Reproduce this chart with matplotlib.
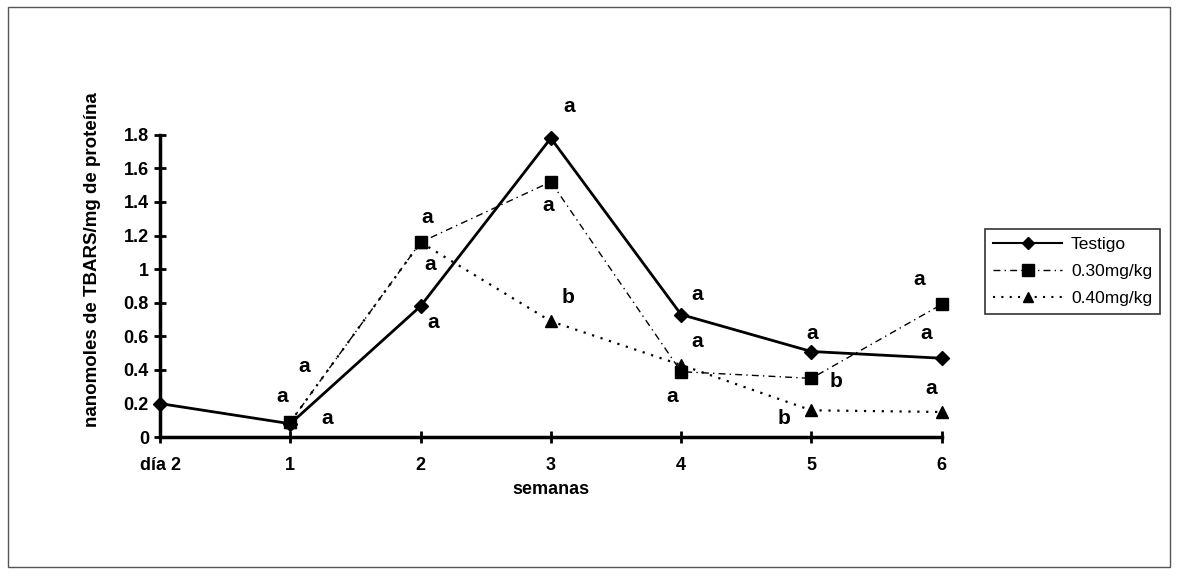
import numpy as np
import matplotlib
matplotlib.use("Agg")
import matplotlib.pyplot as plt
from matplotlib.lines import Line2D
from matplotlib.patches import Rectangle

plt.rcParams["font.family"] = ["Liberation Sans", "DejaVu Sans"]
plt.rcParams["font.weight"] = "bold"

# ---------- data ----------
categories = ["día 2", "1", "2", "3", "4", "5", "6"]
testigo = [0.20, 0.08, 0.78, 1.78, 0.73, 0.51, 0.47]
dosis_030 = [None, 0.09, 1.16, 1.52, 0.39, 0.35, 0.79]
dosis_040 = [None, 0.09, 1.16, 0.69, 0.43, 0.16, 0.15]

# significance letters (x, y, letter)
letters = [
    (0.94, 0.24, "a"), (1.11, 0.42, "a"), (1.28, 0.11, "a"),
    (2.05, 1.31, "a"), (2.07, 1.03, "a"), (2.10, 0.68, "a"),
    (3.14, 1.97, "a"), (2.98, 1.38, "a"), (3.13, 0.83, "b"),
    (4.12, 0.85, "a"), (4.12, 0.57, "a"), (3.93, 0.24, "a"),
    (5.01, 0.62, "a"), (5.19, 0.33, "b"), (4.79, 0.11, "b"),
    (5.83, 0.94, "a"), (5.88, 0.62, "a"), (5.92, 0.29, "a"),
]

def to_arr(vals):
    return np.array([np.nan if v is None else v for v in vals], dtype=float)

x = np.arange(len(categories))

fig = plt.figure(figsize=(11.77, 5.76), dpi=100)
ax = fig.add_axes([0.136, 0.241, 0.664, 0.525])

ax.plot(x, to_arr(dosis_040), color="black", linestyle=(0, (1, 3)), linewidth=1.6,
        marker="^", markersize=9, label="0.40mg/kg", zorder=3, clip_on=False)
ax.plot(x, to_arr(dosis_030), color="black", linestyle=(0, (5, 3, 1, 3)), linewidth=1.0,
        marker="s", markersize=9, label="0.30mg/kg", zorder=4, clip_on=False)
ax.plot(x, to_arr(testigo), color="black", linestyle="-", linewidth=2.0,
        marker="D", markersize=7.5, label="Testigo", zorder=5, clip_on=False)

for lx, ly, t in letters:
    ax.text(lx, ly, t, fontsize=15, fontweight="bold", ha="center", va="center")

ax.set_xlim(0, 6)
ax.set_ylim(0, 1.8)
ax.set_yticks(np.arange(0, 1.81, 0.2))
ax.set_yticklabels(["0", "0.2", "0.4", "0.6", "0.8", "1", "1.2", "1.4", "1.6", "1.8"])
ax.set_xticks(x)
ax.set_xticklabels(categories)
ax.tick_params(axis="both", direction="inout", length=9, width=2, labelsize=13)
ax.tick_params(axis="x", pad=10)
for s in ["top", "right"]:
    ax.spines[s].set_visible(False)
ax.spines["left"].set_linewidth(2.5)
ax.spines["bottom"].set_linewidth(2.5)

ax.set_ylabel("nanomoles de TBARS/mg de proteína", fontsize=13.5, fontweight="bold")
ax.yaxis.set_label_coords(-0.076, 0.586)
ax.set_xlabel("semanas", fontsize=13, fontweight="bold", labelpad=5)

handles = [
    Line2D([], [], color="black", linestyle="-", linewidth=1.5, marker="D", markersize=6),
    Line2D([], [], color="black", linestyle=(0, (5, 3, 1, 3)), linewidth=1.0, marker="s", markersize=8),
    Line2D([], [], color="black", linestyle=(0, (1, 3)), linewidth=1.5, marker="^", markersize=7),
]
leg = fig.legend(handles, ["Testigo", "0.30mg/kg", "0.40mg/kg"],
                 loc="upper left", bbox_to_anchor=(0.837, 0.603), fontsize=12.5,
                 frameon=True, fancybox=False, edgecolor="black", handlelength=4.0,
                 labelspacing=0.7, borderpad=0.45, handletextpad=0.5, borderaxespad=0)
leg.get_frame().set_linewidth(1.2)
for t in leg.get_texts():
    t.set_fontweight("normal")

fig.add_artist(Rectangle((0.007, 0.016), 0.987, 0.972, transform=fig.transFigure,
                         fill=False, edgecolor="#555555", linewidth=1.0))

fig.savefig("out.png", dpi=100)
